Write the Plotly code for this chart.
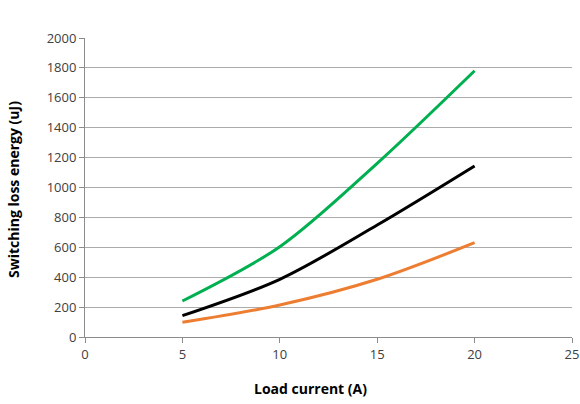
import plotly.graph_objects as go

current = [5, 10, 15, 20]
green_energy = [241, 604, 1162, 1781]
black_energy = [143, 386, 749, 1144]
orange_energy = [98, 214, 386, 631]

x_ticks = [0, 5, 10, 15, 20, 25]
y_ticks = list(range(0, 2001, 200))

fig = go.Figure()
for ys, col in [(green_energy, "#00b050"), (black_energy, "#000000"), (orange_energy, "#ed7d31")]:
    fig.add_trace(go.Scatter(x=current, y=ys, mode="lines",
                             line=dict(color=col, width=3, shape="spline", smoothing=0.9),
                             showlegend=False, hoverinfo="x+y"))

font_family = "Open Sans, Liberation Sans, sans-serif"
fig.update_layout(
    width=580, height=404,
    margin=dict(l=85, r=8, t=38, b=67),
    paper_bgcolor="white", plot_bgcolor="white",
    font=dict(family=font_family, size=13, color="#404040"),
    annotations=[
        dict(text="<b>Load current (A)</b>", x=310, y=404 - 389,
             showarrow=False, font=dict(size=14, color="#000000")),
        dict(text="<b>Switching loss energy (uJ)</b>", x=13, y=404 - 190, textangle=-90,
             showarrow=False, font=dict(size=14, color="#000000")),
    ],
)
# convert pixel positions for annotations into paper coords
for a in fig.layout.annotations:
    a.xref = "paper"; a.yref = "paper"
    a.x = (a.x - 85) / 487.0
    a.y = (a.y - 67) / 299.0
    a.xanchor = "center"; a.yanchor = "middle"

fig.update_xaxes(
    range=[0, 25], tickvals=x_ticks, showgrid=False, automargin=False,
    showline=True, linecolor="#8c8c8c", linewidth=1,
    ticks="outside", ticklen=5, tickcolor="#8c8c8c",
    zeroline=False,
)
fig.update_yaxes(
    range=[0, 2000], tickvals=y_ticks, showgrid=True, gridcolor="#ababab", gridwidth=1,
    showline=True, linecolor="#8c8c8c", linewidth=1, automargin=False,
    ticks="outside", ticklen=5, tickcolor="#8c8c8c",
    zeroline=False,
)
fig.write_html("out.html")
